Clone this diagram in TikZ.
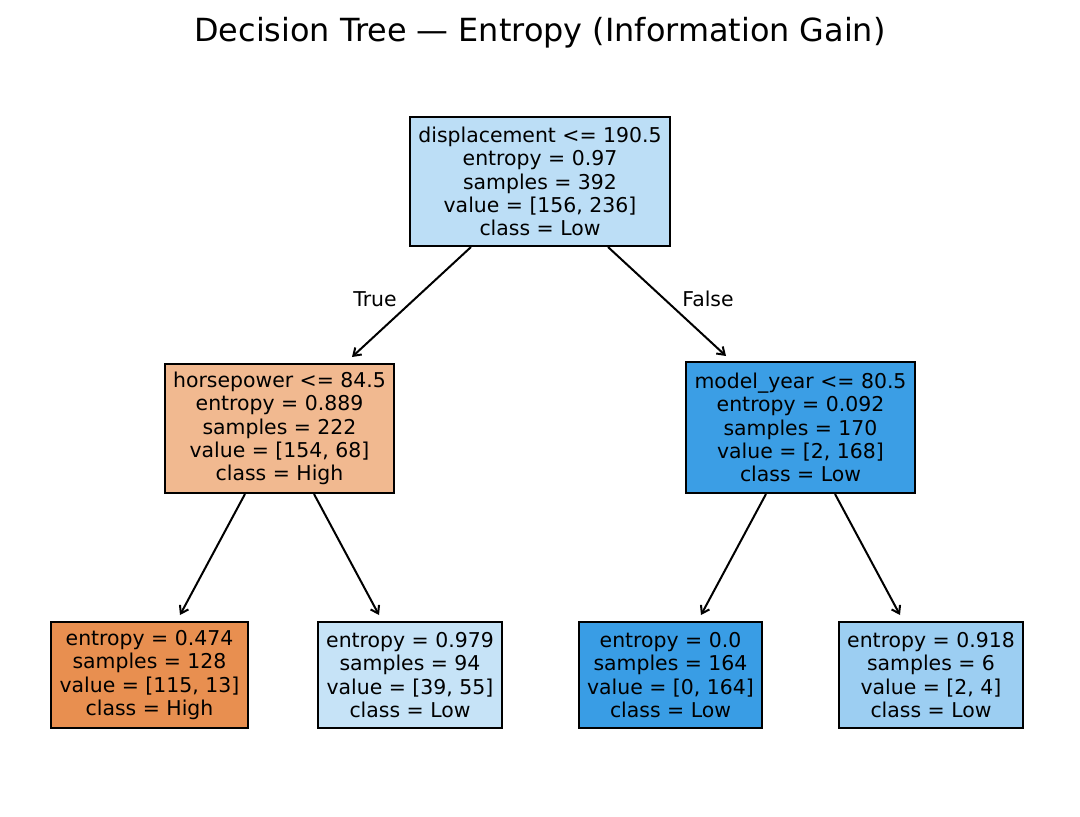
\documentclass[tikz,border=0pt]{standalone}
\usepackage{fontspec}
\setmainfont{DejaVu Sans}
\usetikzlibrary{arrows.meta}
\definecolor{cRoot}{RGB}{188,222,246}
\definecolor{cL}{RGB}{241,185,144}
\definecolor{cR}{RGB}{59,158,229}
\definecolor{cLL}{RGB}{232,143,80}
\definecolor{cLR}{RGB}{198,227,247}
\definecolor{cRL}{RGB}{57,157,229}
\definecolor{cRR}{RGB}{156,206,242}
\tikzset{
  tnode/.style={draw=black, line width=0.96pt, rectangle, inner sep=0pt, align=center,
    font=\fontsize{9.8}{11.15}\selectfont},
  arr/.style={line width=0.96pt, -{Straight Barb[length=3.4pt,width=4.6pt,line width=0.96pt]}},
  elabel/.style={font=\fontsize{9.8}{11.15}\selectfont, inner sep=0pt}
}
\begin{document}
\begin{tikzpicture}[x=0.48pt, y=-0.48pt]
\useasboundingbox (0,0) rectangle (1080,817);
\node[font=\fontsize{15.3}{18}\selectfont, inner sep=0pt] (title) at (540,33) {Decision Tree — Entropy (Information Gain)};

\node[tnode, fill=cRoot, minimum width=124.8pt, minimum height=61.92pt] (root) at (540,181.5)
  {displacement <= 190.5\\entropy = 0.97\\samples = 392\\value = [156, 236]\\class = Low};
\node[tnode, fill=cL, minimum width=109.92pt, minimum height=61.92pt] (L) at (279.5,428.5)
  {horsepower <= 84.5\\entropy = 0.889\\samples = 222\\value = [154, 68]\\class = High};
\node[tnode, fill=cR, minimum width=109.92pt, minimum height=62.88pt] (R) at (800.5,427.5)
  {model\_year <= 80.5\\entropy = 0.092\\samples = 170\\value = [2, 168]\\class = Low};

\node[tnode, fill=cLL, minimum width=94.56pt, minimum height=50.88pt] (LL) at (149.5,675)
  {entropy = 0.474\\samples = 128\\value = [115, 13]\\class = High};
\node[tnode, fill=cLR, minimum width=88.32pt, minimum height=50.88pt] (LR) at (410,675)
  {entropy = 0.979\\samples = 94\\value = [39, 55]\\class = Low};
\node[tnode, fill=cRL, minimum width=87.84pt, minimum height=50.88pt] (RL) at (670.5,675)
  {entropy = 0.0\\samples = 164\\value = [0, 164]\\class = Low};
\node[tnode, fill=cRR, minimum width=88.32pt, minimum height=50.88pt] (RR) at (931,675)
  {entropy = 0.918\\samples = 6\\value = [2, 4]\\class = Low};

\draw[arr] ([xshift=-33.12pt]root.south) -- ([xshift=34.8pt,yshift=2.88pt]L.north);
\draw[arr] ([xshift=32.64pt]root.south) -- ([xshift=-35.76pt,yshift=2.4pt]R.north);
\draw[arr] ([xshift=-16.56pt]L.south) -- ([xshift=14.64pt,yshift=2.88pt]LL.north);
\draw[arr] ([xshift=16.56pt]L.south) -- ([xshift=-14.88pt,yshift=2.88pt]LR.north);
\draw[arr] ([xshift=-16.56pt]R.south) -- ([xshift=14.64pt,yshift=2.88pt]RL.north);
\draw[arr] ([xshift=16.56pt]R.south) -- ([xshift=-14.88pt,yshift=2.88pt]RR.north);

\node[elabel] (tlab) at (375,299) {True};
\node[elabel] (flab) at (708,299) {False};
\end{tikzpicture}
\end{document}
